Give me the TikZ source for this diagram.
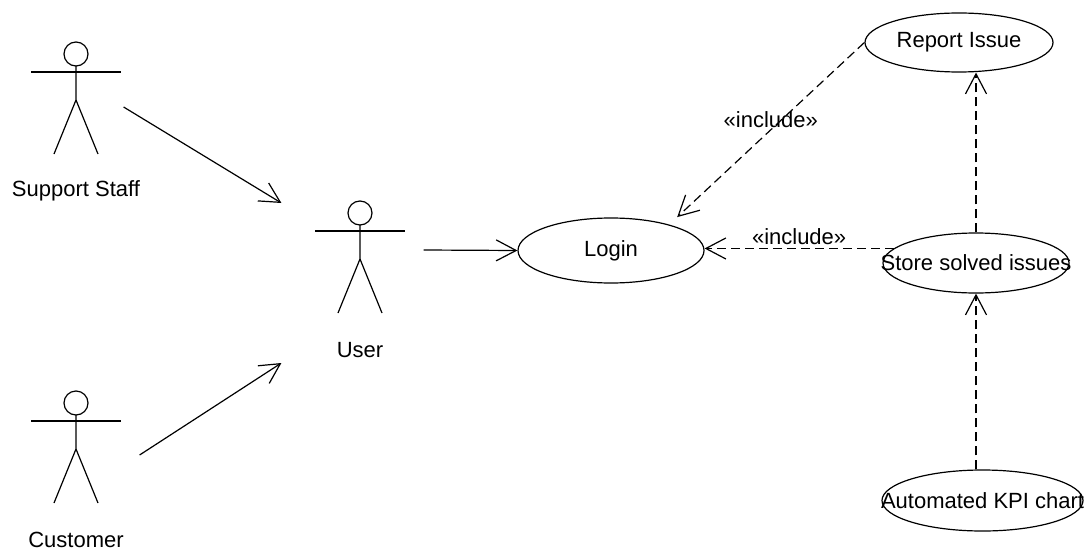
\documentclass[tikz,border=0pt]{standalone}
\usepackage{fontspec}
\setmainfont{Liberation Sans}
\usetikzlibrary{arrows.meta,shapes.geometric}

\tikzset{
  actor/.pic={
    \draw (0,-44) circle (12);
    \draw (0,-32) -- (0,2) -- (-22,56);
    \draw (0,2) -- (22,56);
    \draw (-45,-26) -- (45,-26);
    \node[minimum width=45pt, minimum height=56pt, inner sep=0pt] (-box) at (0,0) {};
    \node (-name) at (0,93) {#1};
  },
  usecase/.style={draw, ellipse, inner sep=0pt},
  assoc/.style={-{Straight Barb[length=10pt,width=10.5pt]}},
  include/.style={dash pattern=on 4.5pt off 2.5pt, -{Straight Barb[length=10pt,width=10.5pt]}},
}

\begin{document}
\begin{tikzpicture}[x=0.5pt, y=-0.5pt, line width=0.6pt, font=\fontsize{11}{13}\selectfont]
    \useasboundingbox (0,0) rectangle (1091,551);
    \pic (staff) at (76,98) {actor=Support Staff};
    \pic (user) at (360,257) {actor=User};
    \pic (cust) at (76,447) {actor=Customer};

    \node[usecase, minimum width=93pt, minimum height=32.5pt] (login) at (611,250.5) {Login};
    \node[usecase, minimum width=94pt, minimum height=29.5pt] (report) at (959,42.5) {Report Issue};
    \node[usecase, minimum width=93pt, minimum height=30pt] (store) at (976,263) {\makebox[0pt]{Store solved issues}};
    \node[usecase, minimum width=100.5pt, minimum height=30.5pt] (kpi) at (982.5,500.5) {\makebox[0pt]{Automated KPI chart}};

    \draw[assoc] ([shift={(2,9)}]staff-box.east) -- ([shift={(-33,-54)}]user-box.west);
    \draw[assoc] ([shift={(18,8)}]cust-box.east) -- ([shift={(-33,106)}]user-box.west);
    \draw[assoc] ([shift={(18,-7)}]user-box.east) -- (login.west);

    \draw[include] (report.west) -- node[midway, yshift=5pt]{«include»} ([yshift=5pt]login.north east);
    \draw[include] (store.170) -- node[above, inner sep=1.5pt]{«include»} (login.east |- store.170);
    \draw[include] (store.north) -- (store.north |- report.south);
    \draw[include] (store.south |- kpi.north) -- (store.south);
  \end{tikzpicture}
\end{document}
